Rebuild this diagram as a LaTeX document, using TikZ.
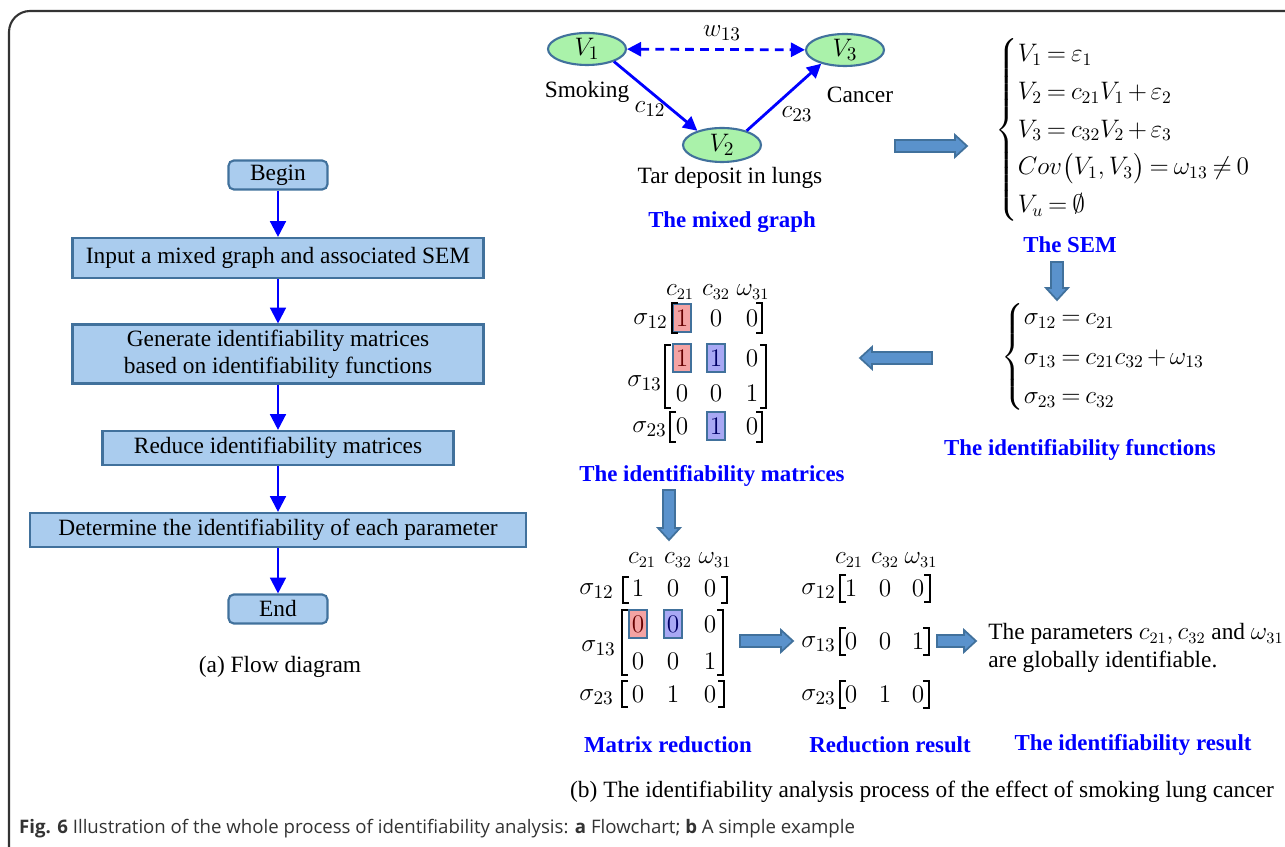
\documentclass[tikz,border=0pt]{standalone}
\usepackage{amsmath}
\usepackage{fontspec}
\setmainfont{Liberation Serif}
\newfontfamily\capfont{Open Sans}
\usetikzlibrary{arrows.meta,shapes.geometric}

\definecolor{boxfill}{HTML}{AACCEE}
\definecolor{boxline}{HTML}{41719C}
\definecolor{vfill}{HTML}{AAF2AA}
\definecolor{fatfill}{HTML}{5A92CC}
\definecolor{cellred}{HTML}{F4A3A3}
\definecolor{cellblue}{HTML}{A8A8F4}
\definecolor{framegray}{HTML}{333333}

\tikzset{
  stepbox/.style={draw=boxline, fill=boxfill, line width=1.2pt, minimum height=0.68cm, inner sep=2pt},
  termbox/.style={stepbox, rounded corners=3pt, minimum width=1.98cm, minimum height=0.58cm},
  flow/.style={-{Triangle[length=9pt,width=9pt]}, blue, line width=1.3pt},
  var/.style={ellipse, draw=boxline, fill=vfill, line width=1.2pt, minimum width=1.56cm, minimum height=0.64cm, inner sep=0pt, font=\fontsize{15}{18}\selectfont},
  link/.style={-{Triangle[length=8pt,width=8pt]}, blue, line width=1.6pt},
  paneltitle/.style={text=blue, font=\fontsize{13}{15}\selectfont\bfseries},
  ent/.style={font=\fontsize{15}{18}\selectfont, inner sep=0pt},
  colhead/.style={font=\fontsize{13.5}{16}\selectfont, inner sep=0pt},
  eqs/.style={anchor=west, inner sep=0pt, font=\fontsize{14}{17}\selectfont},
  plain/.style={},
  hlred/.style={draw=boxline, fill=cellred, text=red!40!black, line width=1.2pt, minimum width=0.36cm, minimum height=0.56cm},
  hlblue/.style={hlred, fill=cellblue, text=blue!40!black},
  brk/.style={line width=0.8pt},
  fatarr/.style={fill=fatfill, draw=boxline, line width=1pt},
}

% square brackets and block arrows, in pixel units
\newcommand\matL[3]{\draw[brk] ({#1+6},#2) -| (#1,#3) -- ({#1+6},#3);}
\newcommand\matR[3]{\draw[brk] ({#1-6},#2) -| (#1,#3) -- ({#1-6},#3);}
\newcommand\fatarrow[4]{%
  \draw[fatarr, shift={(#1,#2)}, rotate=#3] (0,-6) -- ({#4-12},-6) -- ({#4-12},-11) -- (#4,0)
    -- ({#4-12},11) -- ({#4-12},6) -- (0,6) -- cycle;}
\newcommand\tightmath{\thickmuskip=3.5mu\relax\medmuskip=2.5mu\relax}

\begin{document}
\begin{tikzpicture}[x=0.02cm, y=-0.02cm, every node/.style={font=\fontsize{13.3}{15.5}\selectfont}]
\useasboundingbox (0,0) rectangle (1285,847);
\begin{scope}
\clip (0,0) rectangle (1285,847);
\draw[framegray, line width=1.2pt, rounded corners=12pt] (1300,11) -- (9,11) -- (9,870) -- (40,870);
\end{scope}

% (a) flow diagram
\node[termbox] (begin) at (278,175) {Begin};
\node[stepbox, minimum width=8.22cm, minimum height=0.8cm] (input) at (278,258) {Input a mixed graph and associated SEM};
\node[stepbox, minimum width=8.22cm, minimum height=1.18cm, align=center] (gen) at (278,354) {Generate identifiability matrices\\based on identifiability functions};
\node[stepbox, minimum width=7.02cm] (reduce) at (278,448) {Reduce identifiability matrices};
\node[stepbox, minimum width=9.92cm] (determine) at (278,530) {Determine the identifiability of each parameter};
\node[termbox] (end) at (278,609) {End};
\foreach \a/\b in {begin/input, input/gen, gen/reduce, reduce/determine, determine/end}
  \draw[flow] (\a) -- (\b);
\node (capa) at (280,667) {(a) Flow diagram};

% mixed graph
\node[var] (v1) at (587,49) {$V_1$};
\node[var] (v3) at (845,50) {$V_3$};
\node[var, minimum height=0.68cm] (v2) at (722,145) {$V_2$};
\draw[link, {Triangle[length=8pt,width=8pt]}-{Triangle[length=8pt,width=8pt]}, dash pattern=on 5pt off 3.5pt] (v1) -- (v3);
\draw[link] (v1.-25) -- (v2.150);
\draw[link] (v2.30) -- (v3.210);
\node[ent] (w13) at (722,33) {$w_{13}$};
\node[ent] (c12) at (650,109) {$c_{12}$};
\node[ent] (c23) at (797,114) {$c_{23}$};
\node (smoking) at (587,92) {Smoking};
\node (cancer) at (860,95) {Cancer};
\node (tar) at (730,178) {Tar deposit in lungs};
\node[paneltitle] (t-graph) at (732,222) {The mixed graph};

% SEM
\node[eqs] (sem) at (995,130)
  {$\tightmath\begin{cases} V_1=\varepsilon_1\\[1pt] V_2=c_{21}V_1+\varepsilon_2\\[1pt] V_3=c_{32}V_2+\varepsilon_3\\[1pt]
   Cov\bigl(V_1,V_3\bigr)=\omega_{13}\neq 0\\[1pt] V_u=\emptyset \end{cases}$};
\node[paneltitle] (t-sem) at (1070,245) {The SEM};

% identifiability functions
\node[eqs] (fun) at (1001,357)
  {$\tightmath\begin{cases} \sigma_{12}=c_{21}\\[2pt] \sigma_{13}=c_{21}c_{32}+\omega_{13}\\[2pt] \sigma_{23}=c_{32} \end{cases}$};
\node[paneltitle] (t-fun) at (1080,450) {The identifiability functions};

% identifiability matrices
\foreach \x/\h [count=\i] in {680/c_{21}, 716/c_{32}, 753/\omega_{31}}
  \node[colhead] (im-h\i) at (\x,292) {$\h$};
\foreach \r/\y/\a/\sa/\b/\sb/\c in {1/318/1/hlred/0/plain/0, 2/358/1/hlred/1/hlblue/0, 3/393/0/plain/0/plain/1, 4/426/0/plain/1/hlblue/0} {
  \node[ent,\sa] (im-\r-1) at (682,\y) {$\a$};
  \node[ent,\sb] (im-\r-2) at (716,\y) {$\b$};
  \node[ent] (im-\r-3) at (752,\y) {$\c$};
}
\node[ent, anchor=east] (im-s12) at (668,321) {$\sigma_{12}$};
\node[ent, anchor=east] (im-s13) at (662,383) {$\sigma_{13}$};
\node[ent, anchor=east] (im-s23) at (667,429) {$\sigma_{23}$};
\matL{672}{303}{333} \matR{762}{303}{333}
\matL{665}{345}{408} \matR{766}{345}{408}
\matL{670}{412}{442} \matR{762}{412}{442}
\node[paneltitle] (t-mat) at (712,476) {The identifiability matrices};

% matrix reduction
\foreach \x/\h [count=\i] in {642/c_{21}, 678/c_{32}, 715/\omega_{31}}
  \node[colhead] (mr-h\i) at (\x,560) {$\h$};
\foreach \r/\y/\a/\sa/\b/\sb/\c in {1/588/1/plain/0/plain/0, 2/624/0/hlred/0/hlblue/0, 3/661/0/plain/0/plain/1, 4/694/0/plain/1/plain/0} {
  \node[ent,\sa] (mr-\r-1) at (638,\y) {$\a$};
  \node[ent,\sb] (mr-\r-2) at (673,\y) {$\b$};
  \node[ent] (mr-\r-3) at (710,\y) {$\c$};
}
\node[ent, anchor=east] (mr-s12) at (614,591) {$\sigma_{12}$};
\node[ent, anchor=east] (mr-s13) at (616,648) {$\sigma_{13}$};
\node[ent, anchor=east] (mr-s23) at (614,697) {$\sigma_{23}$};
\matL{623}{577}{603} \matR{727}{577}{603}
\matL{622}{610}{675} \matR{723}{610}{675}
\matL{622}{681}{707} \matR{724}{681}{707}
\node[paneltitle] (t-red) at (668,745) {Matrix reduction};

% reduction result
\foreach \x/\h [count=\i] in {849/c_{21}, 885/c_{32}, 921/\omega_{31}}
  \node[colhead] (rr-h\i) at (\x,560) {$\h$};
\foreach \r/\y/\a/\b/\c in {1/588/1/0/0, 2/641/0/0/1, 3/694/0/1/0} {
  \node[ent] (rr-\r-1) at (851,\y) {$\a$};
  \node[ent] (rr-\r-2) at (885,\y) {$\b$};
  \node[ent] (rr-\r-3) at (918,\y) {$\c$};
}
\node[ent, anchor=east] (rr-s12) at (836,591) {$\sigma_{12}$};
\node[ent, anchor=east] (rr-s13) at (836,644) {$\sigma_{13}$};
\node[ent, anchor=east] (rr-s23) at (836,697) {$\sigma_{23}$};
\matL{840}{575}{602} \matR{930}{575}{602}
\matL{840}{628}{655} \matR{929}{628}{655}
\matL{840}{681}{708} \matR{929}{681}{708}
\node[paneltitle] (t-res) at (890,745) {Reduction result};

% result
\node[anchor=west, align=left, inner sep=0pt] (result) at (988,648)
  {The parameters $c_{21},c_{32}$ and $\omega_{31}$\\are globally identifiable.};
\node[paneltitle] (t-ident) at (1133,745) {The identifiability result};

% block arrows
\fatarrow{895}{146}{0}{72}
\fatarrow{1057}{262}{-90}{38}
\fatarrow{932}{358}{180}{72}
\fatarrow{669}{490}{-90}{50}
\fatarrow{740}{641}{0}{53}
\fatarrow{937}{641}{0}{39}

\node (capb) at (922,792) {(b) The identifiability analysis process of the effect of smoking lung cancer};
\node[anchor=west, text=framegray, font=\capfont\fontsize{10.6}{13}\selectfont] (fig) at (13,829)
  {\textbf{Fig. 6} Illustration of the whole process of identifiability analysis: \textbf{a} Flowchart; \textbf{b} A simple example};
\end{tikzpicture}
\end{document}
